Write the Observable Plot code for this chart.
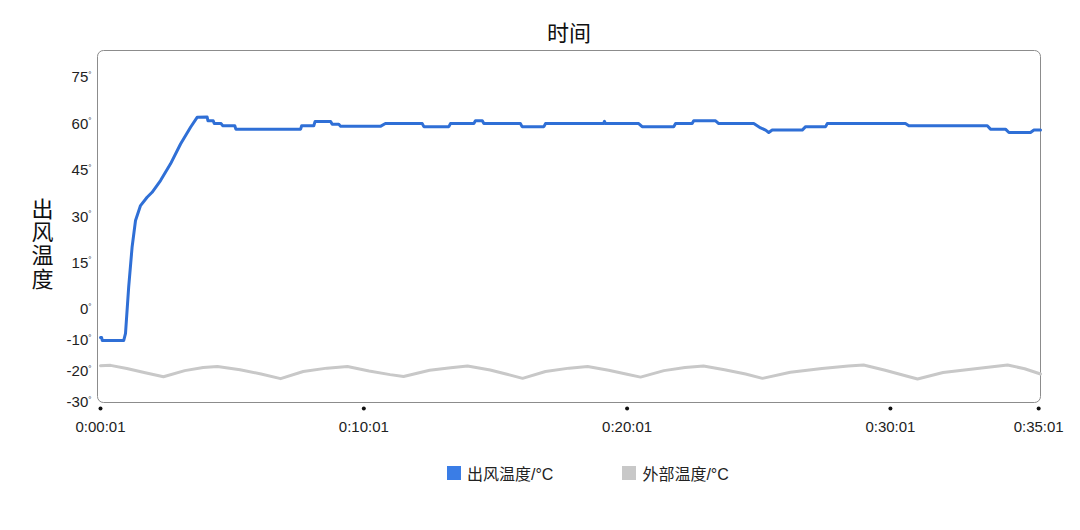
<!DOCTYPE html>
<html>
<head>
<meta charset="utf-8">
<script src="https://cdn.jsdelivr.net/npm/d3@7"></script>
<script src="https://cdn.jsdelivr.net/npm/@observablehq/plot@0.6"></script>
<style>
  html, body { margin: 0; padding: 0; background: #fff; }
  body { width: 1080px; height: 530px; position: relative; overflow: hidden;
         font-family: "Liberation Sans", "Noto Sans CJK SC", sans-serif; color: #222; }
  #legend { position: absolute; left: 447px; top: 461px; display: flex; align-items: center;
            font-size: 16px; color: #222; }
  .item { display: flex; align-items: center; }
  .sw { width: 14px; height: 14px; margin-right: 6px; }
</style>
</head>
<body>
<div id="chart"></div>
<div id="legend"></div>
<script>
// ---- Data (time in minutes since 0:00:01, temperature in °C) ----
const seriesNames = ["出风温度/°C", "外部温度/°C"];
const seriesColors = ["#2f6fd6", "#c8c8c8"];

const outletTemp = [
  [0, -9], [0.04, -9], [0.07, -10], [0.88, -10], [0.95, -7.7], [1.07, 7.3], [1.20, 20.2],
  [1.33, 28.8], [1.52, 33.6], [1.77, 36.3], [1.96, 37.9], [2.28, 41.7], [2.66, 47.1],
  [3.04, 53.5], [3.42, 58.9], [3.67, 62.1], [4.05, 62.2], [4.08, 61.0], [4.28, 61.0],
  [4.32, 60.1], [4.58, 60.1], [4.64, 59.4], [5.10, 59.4], [5.14, 58.3], [7.60, 58.3],
  [7.64, 59.4], [8.10, 59.4], [8.15, 60.8], [8.74, 60.8], [8.80, 59.9], [9.05, 59.9],
  [9.12, 59.2], [10.63, 59.2], [10.82, 60.1], [12.22, 60.1], [12.28, 59.1], [13.23, 59.1],
  [13.29, 60.1], [14.18, 60.1], [14.24, 61.0], [14.50, 61.0], [14.56, 60.1], [15.95, 60.1],
  [16.01, 59.1], [16.84, 59.1], [16.90, 60.1], [19.10, 60.1], [19.14, 60.8], [19.18, 60.1],
  [20.44, 60.1], [20.57, 59.1], [21.77, 59.1], [21.84, 60.1], [22.47, 60.1], [22.53, 61.0],
  [23.36, 61.0], [23.48, 60.1], [24.81, 60.1], [24.94, 59.4], [25.07, 58.7], [25.26, 58.0],
  [25.38, 57.2], [25.51, 58.0], [26.65, 58.0], [26.78, 59.1], [27.54, 59.1], [27.60, 60.1],
  [30.57, 60.1], [30.70, 59.4], [33.68, 59.4], [33.80, 58.3], [34.37, 58.3], [34.50, 57.2],
  [35.32, 57.2], [35.45, 58.0], [35.70, 58.0]
];

const outsideTemp = [
  [0, -18.1], [0.38, -18.0], [1.0, -19.0], [1.7, -20.4], [2.39, -21.7], [3.2, -19.7],
  [3.9, -18.7], [4.44, -18.4], [5.3, -19.4], [6.1, -20.8], [6.84, -22.3], [7.7, -20.0],
  [8.6, -18.9], [9.38, -18.4], [10.2, -19.8], [11.0, -21.0], [11.51, -21.6], [12.5, -19.6],
  [13.3, -18.8], [13.94, -18.2], [14.8, -19.5], [15.4, -20.8], [16.03, -22.2], [16.9, -20.0],
  [17.8, -18.9], [18.50, -18.4], [19.3, -19.6], [20.0, -20.9], [20.51, -21.8], [21.4, -19.7],
  [22.2, -18.7], [22.90, -18.2], [23.7, -19.4], [24.5, -20.8], [25.14, -22.2], [26.2, -20.2],
  [27.4, -19.0], [28.4, -18.2], [28.98, -17.9], [29.8, -19.6], [30.5, -21.2], [31.03, -22.4],
  [32.0, -20.3], [33.3, -19.0], [34.45, -17.9], [35.1, -19.1], [35.7, -20.8]
];

const xTickValues = [0, 10, 20, 30, 35.63];
const xTickLabels = ["0:00:01", "0:10:01", "0:20:01", "0:30:01", "0:35:01"];
const yTickValues = [75, 60, 45, 30, 15, 0, -10, -20, -30];
const titleText = "时间";
const yLabelText = "出\n风\n温\n度";

// ---- Chart ----
const xLabelMap = new Map(xTickValues.map((v, i) => [v, xTickLabels[i]]));

const chart = Plot.plot({
  width: 1080,
  height: 440,
  marginTop: 50,
  marginBottom: 38,
  marginLeft: 97,
  marginRight: 40,
  insetLeft: 3,
  style: { fontSize: "15px", fontFamily: '"Liberation Sans", "Noto Sans CJK SC", sans-serif', color: "#222", background: "#fff" },
  x: { domain: [0, 35.7] },
  y: { domain: [-30, 83.7] },
  marks: [
    Plot.frame({ stroke: "#8c8c8c", strokeWidth: 1, rx: 6 }),
    Plot.axisY({ ticks: yTickValues, tickSize: 0, tickPadding: 6, tickFormat: d => d + "°", label: null }),
    Plot.axisX({ ticks: xTickValues, tickSize: 0, tickPadding: 19, tickFormat: d => xLabelMap.get(d), label: null }),
    Plot.dot(xTickValues, { x: d => d, frameAnchor: "bottom", dy: 6, r: 2, fill: "#111", stroke: null }),
    Plot.line(outsideTemp, { x: d => d[0], y: d => d[1], stroke: seriesColors[1], strokeWidth: 3 }),
    Plot.line(outletTemp, { x: d => d[0], y: d => d[1], stroke: seriesColors[0], strokeWidth: 3 }),
    Plot.text([titleText], { frameAnchor: "top", lineAnchor: "middle", dy: -17, fontSize: 22, fill: "#111" }),
    Plot.text([yLabelText], { frameAnchor: "left", dx: -55, dy: 18, fontSize: 22, lineHeight: 1.05, textAnchor: "middle", fill: "#111" })
  ]
});

document.getElementById("chart").appendChild(chart);

// small superscript degree signs on y tick labels
d3.select(chart).selectAll('g[aria-label="y-axis tick label"] text').each(function () {
  const t = this.textContent.replace("°", "");
  const s = d3.select(this);
  s.text(t);
  s.append("tspan").attr("font-size", "8px").attr("dy", "-0.7em").text("°");
});

// legend
const legend = d3.select("#legend");
seriesNames.forEach((name, i) => {
  const item = legend.append("div").attr("class", "item").style("margin-right", i === 0 ? "69px" : "0");
  item.append("div").attr("class", "sw").style("background", i === 0 ? "#3a7de6" : seriesColors[1]);
  item.append("span").text(name);
});
</script>
</body>
</html>
